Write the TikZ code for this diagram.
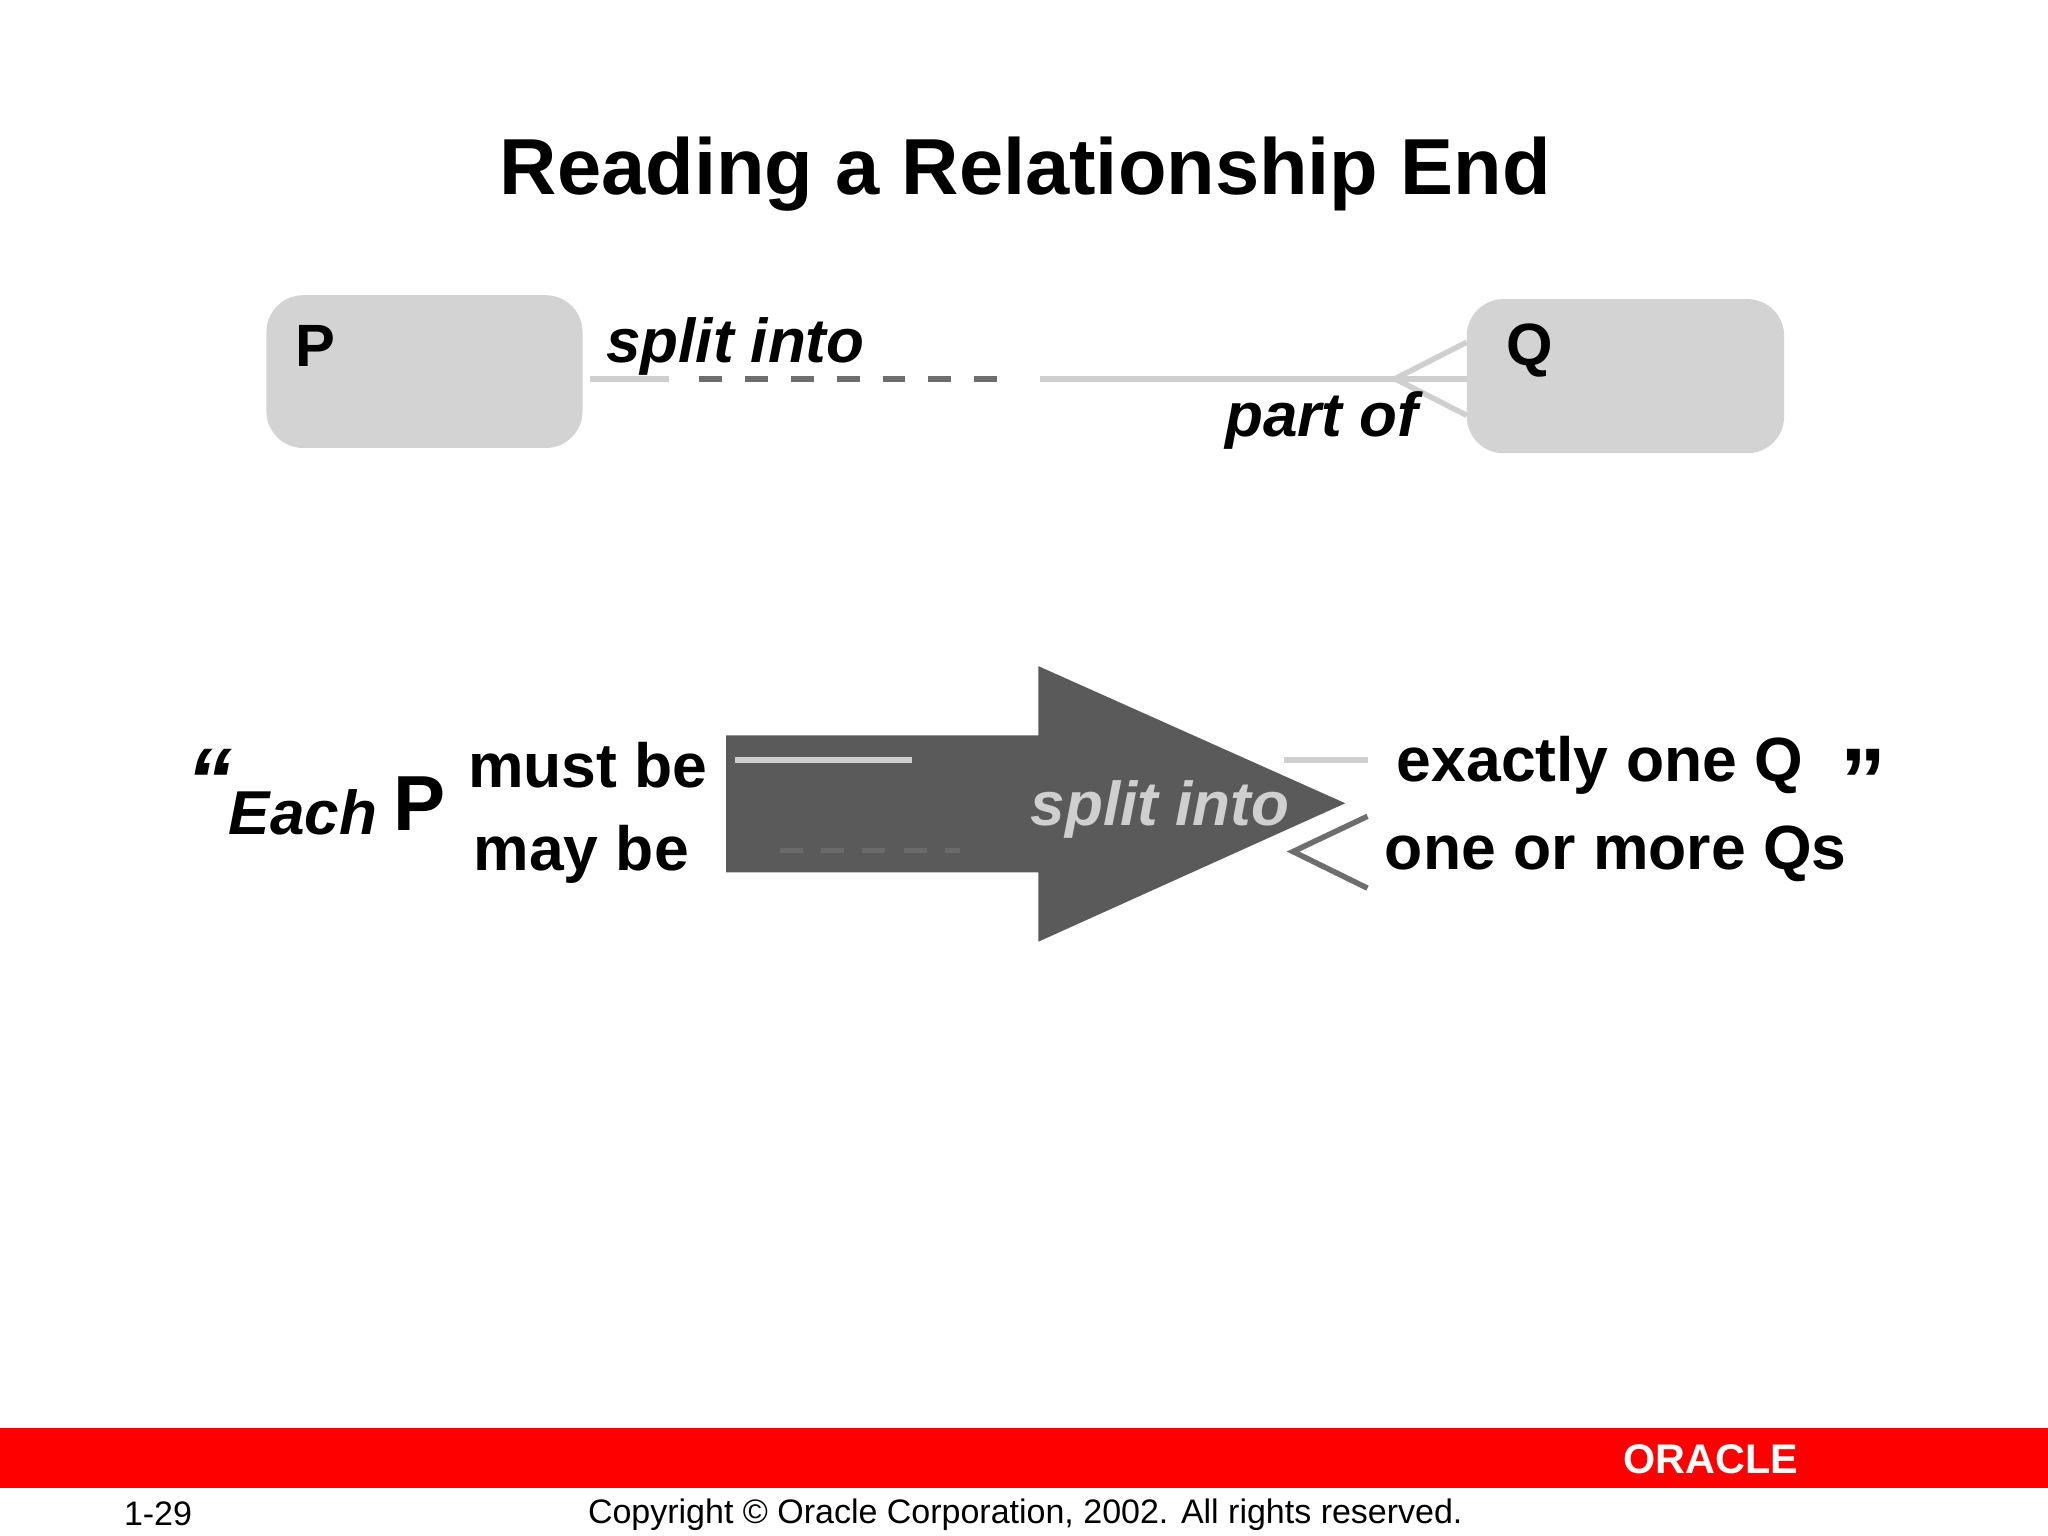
\documentclass[tikz,border=0pt]{standalone}
\usepackage{fontspec}
\setmainfont{Liberation Sans}
\begin{document}
\begin{tikzpicture}[x=0.01cm,y=-0.01cm,
  box/.style={fill=boxgray,rounded corners=8pt,draw=none},
  lbl/.style={font=\bfseries\itshape\fontsize{13.5}{16}\selectfont},
  txt/.style={font=\bfseries\fontsize{13.6}{16}\selectfont},
  light/.style={draw=lightline,line width=1.2pt},
  dashline/.style={draw=dashgray,line width=1.2pt,dash pattern=on 5pt off 5pt}]
\definecolor{boxgray}{HTML}{D3D3D3}
\definecolor{lightline}{HTML}{CFCFCF}
\definecolor{dashgray}{HTML}{6E6E6E}
\definecolor{arrowgray}{HTML}{5A5A5A}
\useasboundingbox (0,0) rectangle (1568,1176);
\node[font=\bfseries\fontsize{17.3}{20}\selectfont] (title) at (785,133) {Reading a Relationship End};
% boxes
\path[box] (204,226) rectangle (446,343);
\node[anchor=west,font=\bfseries\fontsize{13}{16}\selectfont] (P) at (214,265) {P};
\path[box] (1123,229) rectangle (1366,347);
\node[anchor=west,font=\bfseries\fontsize{13}{16}\selectfont] (Q) at (1141,268) {Q};
\coordinate (a1) at (452,290); \coordinate (a2) at (512,290);
\coordinate (a3) at (535,290); \coordinate (a4) at (770,290);
\coordinate (a5) at (796,290); \coordinate (a6) at (1123,290);
\coordinate (cf) at (1068,290);
\draw[light] (a1) -- (a2);
\draw[dashline] (a3) -- (a4);
\draw[light] (a5) -- (a6);
\draw[light] (cf) -- (1123,262) (cf) -- (1123,318);
\node[lbl] (s1) at (563,265) {split into};
\node[lbl] (p1) at (1012,322) {part of};
% big arrow
\fill[arrowgray] (556,563) -- (795,563) -- (795,510) -- (1030,615) -- (795,721) -- (795,668) -- (556,668) -- cycle;
\draw[light] (563,582) -- (698,582);
\draw[draw=dashgray!80!arrowgray,line width=1.2pt,dash pattern=on 5pt off 4pt] (597,651) -- (735,651);
\node[lbl,text=lightline] (s2) at (888,620) {split into};
\draw[light] (983,582) -- (1047,582);
\draw[draw=dashgray,line width=1.2pt] (1047,625) -- (990,652) -- (1047,680);
\node[txt] (must) at (450,586) {must be};
\node[txt] (may) at (445,654) {may be};
\node[txt] (ex) at (1225,586) {exactly one Q};
\node[txt] (om) at (1237,654) {one or more Qs};
\node[font=\bfseries\itshape\fontsize{13.5}{16}\selectfont] (each) at (232,622) {Each};
\node[font=\bfseries\fontsize{17}{20}\selectfont] (bigP) at (321,615) {P};
\node[font=\bfseries\itshape\fontsize{20}{22}\selectfont] (oq) at (160,598) {“};
\node[font=\bfseries\fontsize{20}{22}\selectfont] (cq) at (1427,598) {”};
% footer
\fill[red] (0,1093) rectangle (1568,1139);
\node[text=white,font=\bfseries\fontsize{9}{12}\selectfont] (logo) at (1310,1117) {ORACLE};
\node[font=\fontsize{7.4}{10}\selectfont] (pg) at (121,1159) {1-29};
\node[font=\fontsize{7.4}{10}\selectfont] (copy) at (785,1160) {Copyright © Oracle Corporation, 2002. All rights reserved.};
\end{tikzpicture}
\end{document}
